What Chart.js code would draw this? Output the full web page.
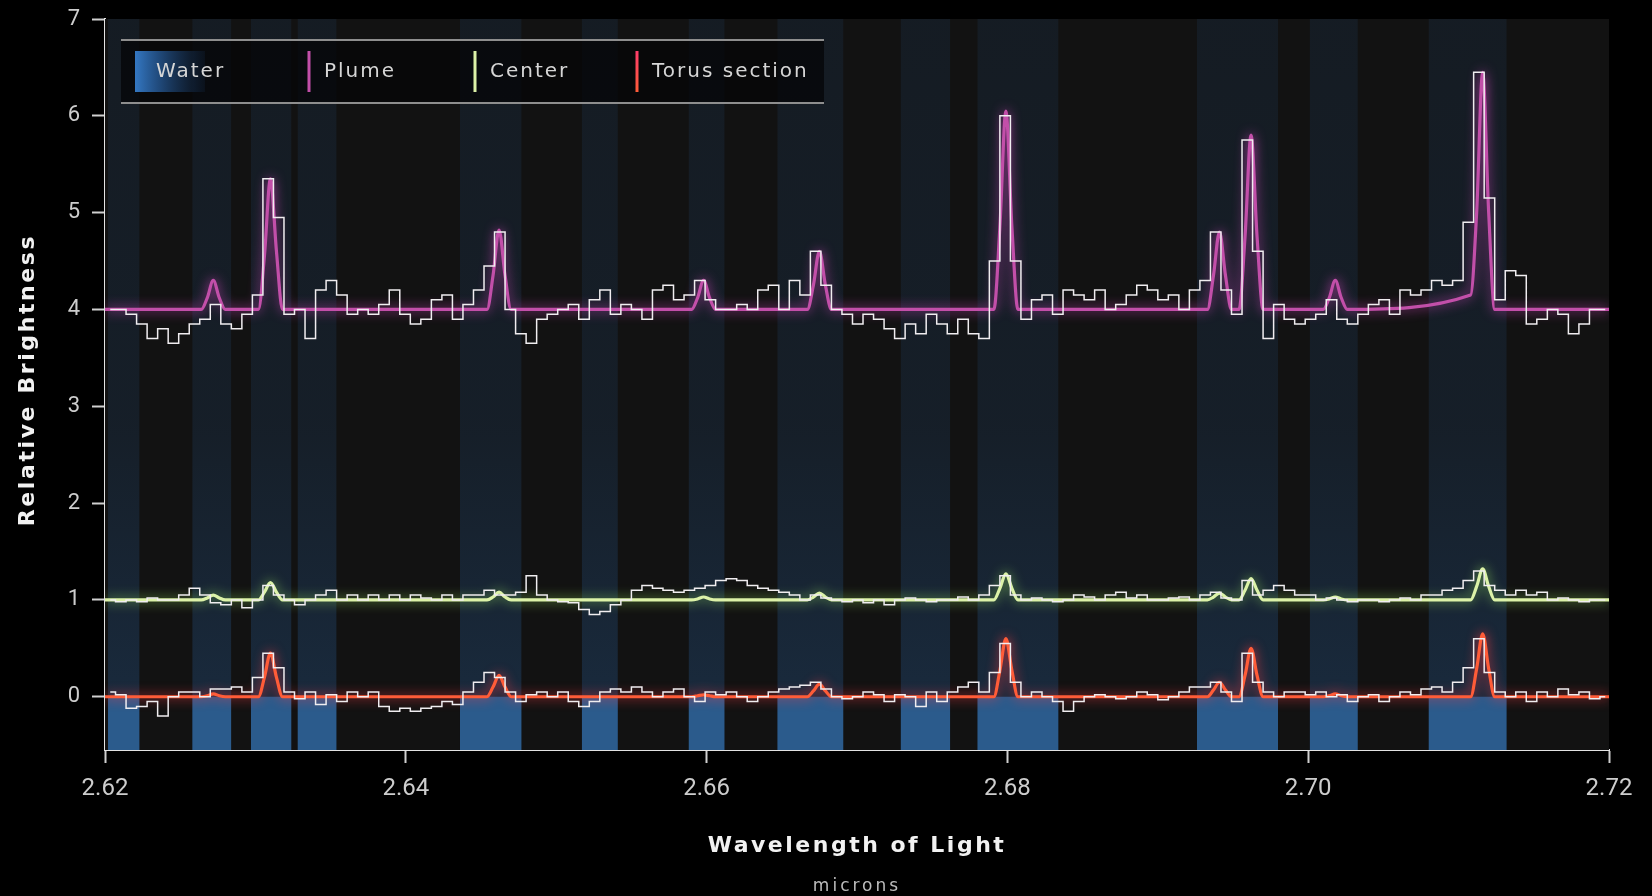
<!DOCTYPE html>
<html>
<head>
<meta charset="utf-8">
<title>Enceladus plume spectrum</title>
<script src="https://cdn.jsdelivr.net/npm/chart.js@4.4.1/dist/chart.umd.min.js"></script>
<style>
  html, body { margin: 0; padding: 0; background: #000; }
  canvas { display: block; }
</style>
</head>
<body>
<canvas id="spectrum" width="1652" height="896"></canvas>
<script>
// Spectral bins: first bin starts at 2.620 µm, each bin is 0.0007 µm wide
const binStart = 2.62;
const binWidth = 0.0007;

// Observed relative brightness per bin (plume offset by +4, center by +1)
const plumeData = [
  4.0, 4.0, 3.95, 3.85, 3.7, 3.8, 3.65, 3.75, 3.85, 3.9,
  4.05, 3.85, 3.8, 3.95, 4.15, 5.35, 4.95, 3.95, 4.0, 3.7,
  4.2, 4.3, 4.15, 3.95, 4.0, 3.95, 4.05, 4.2, 3.95, 3.85,
  3.9, 4.1, 4.15, 3.9, 4.05, 4.2, 4.45, 4.8, 4.0, 3.75,
  3.65, 3.9, 3.95, 4.0, 4.05, 3.9, 4.1, 4.2, 3.95, 4.05,
  4.0, 3.9, 4.2, 4.25, 4.1, 4.15, 4.3, 4.1, 4.0, 4.0,
  4.05, 4.0, 4.2, 4.25, 4.0, 4.3, 4.15, 4.6, 4.25, 4.0,
  3.95, 3.85, 3.95, 3.9, 3.8, 3.7, 3.85, 3.75, 3.95, 3.85,
  3.75, 3.9, 3.75, 3.7, 4.5, 6.0, 4.5, 3.9, 4.1, 4.15,
  3.95, 4.2, 4.15, 4.1, 4.2, 4.0, 4.05, 4.15, 4.25, 4.2,
  4.1, 4.15, 4.0, 4.2, 4.3, 4.8, 4.2, 3.95, 5.75, 4.6,
  3.7, 4.05, 3.9, 3.85, 3.9, 3.95, 4.1, 3.9, 3.85, 3.95,
  4.05, 4.1, 3.95, 4.2, 4.15, 4.2, 4.3, 4.25, 4.3, 4.9,
  6.45, 5.15, 4.1, 4.4, 4.35, 3.85, 3.9, 4.0, 3.95, 3.75,
  3.85, 4.0, 4.0
];

const centerData = [
  1.0, 0.98, 1.0, 0.98, 1.02, 1.0, 1.0, 1.05, 1.12, 1.05,
  0.97, 0.95, 1.0, 0.92, 1.0, 1.15, 1.05, 1.0, 0.95, 1.0,
  1.05, 1.1, 1.0, 1.05, 1.0, 1.05, 1.0, 1.05, 1.0, 1.05,
  1.02, 1.0, 1.05, 1.0, 1.05, 1.05, 1.1, 1.05, 1.05, 1.08,
  1.25, 1.05, 1.0, 0.98, 0.97, 0.9, 0.85, 0.88, 0.95, 1.0,
  1.1, 1.15, 1.12, 1.1, 1.08, 1.1, 1.12, 1.15, 1.2, 1.22,
  1.2, 1.15, 1.12, 1.1, 1.08, 1.05, 1.0, 1.05, 1.02, 1.0,
  0.98, 1.0, 0.97, 1.0, 0.95, 1.0, 1.02, 1.0, 0.98, 1.0,
  1.0, 1.03, 1.0, 1.05, 1.15, 1.25, 1.05, 1.0, 1.02, 1.0,
  0.98, 1.0, 1.05, 1.03, 1.0, 1.05, 1.08, 1.02, 1.05, 1.0,
  1.0, 1.02, 1.03, 1.0, 1.05, 1.08, 1.02, 1.0, 1.2, 1.05,
  1.1, 1.15, 1.1, 1.05, 1.05, 1.0, 1.02, 1.0, 0.98, 1.0,
  1.0, 0.98, 1.0, 1.02, 1.0, 1.05, 1.05, 1.1, 1.12, 1.2,
  1.3, 1.15, 1.1, 1.05, 1.1, 1.05, 1.08, 1.0, 1.02, 1.0,
  0.98, 1.0, 1.0
];

const torusData = [
  0.05, 0.02, -0.12, -0.1, -0.05, -0.2, 0.0, 0.05, 0.05, 0.0,
  0.08, 0.08, 0.1, 0.05, 0.2, 0.45, 0.3, 0.05, -0.02, 0.05,
  -0.08, 0.02, -0.05, 0.05, 0.0, 0.05, -0.1, -0.15, -0.12, -0.15,
  -0.12, -0.1, -0.05, -0.08, 0.05, 0.15, 0.25, 0.2, 0.05, -0.05,
  0.02, 0.05, 0.0, 0.05, -0.05, -0.1, -0.05, 0.05, 0.08, 0.05,
  0.1, 0.05, 0.0, 0.05, 0.08, 0.0, -0.05, 0.05, 0.02, 0.05,
  0.0, -0.05, 0.0, 0.05, 0.08, 0.1, 0.12, 0.15, 0.08, 0.0,
  -0.02, 0.0, 0.05, 0.02, -0.05, 0.02, 0.0, -0.1, 0.05, -0.05,
  0.05, 0.1, 0.15, 0.05, 0.25, 0.55, 0.15, 0.0, 0.05, 0.0,
  -0.05, -0.15, -0.05, 0.0, 0.02, 0.0, -0.02, 0.0, 0.05, 0.02,
  -0.03, 0.0, 0.05, 0.1, 0.1, 0.15, 0.05, -0.05, 0.45, 0.15,
  0.05, 0.0, 0.05, 0.05, 0.02, 0.05, 0.0, 0.02, -0.05, 0.0,
  0.02, -0.05, 0.0, 0.05, 0.02, 0.08, 0.1, 0.05, 0.15, 0.3,
  0.6, 0.25, 0.05, 0.0, 0.05, -0.05, 0.05, 0.0, 0.08, 0.02,
  0.05, -0.02, 0.0
];

// Water model curves, sampled around each emission line
const modelWavelengths = [
  2.6200,
  2.6264, 2.6268, 2.6272, 2.6276, 2.6280,
  2.6302, 2.6306, 2.6310, 2.6314, 2.6318,
  2.6454, 2.6458, 2.6462, 2.6466, 2.6470,
  2.6590, 2.6594, 2.6598, 2.6602, 2.6606,
  2.6667, 2.6671, 2.6675, 2.6679, 2.6683,
  2.6791, 2.6795, 2.6799, 2.6803, 2.6807,
  2.6933, 2.6937, 2.6941, 2.6945, 2.6949,
  2.6954, 2.6958, 2.6962, 2.6966, 2.6970,
  2.7010, 2.7014, 2.7018, 2.7022, 2.7026,
  2.7108, 2.7112, 2.7116, 2.7120, 2.7124,
  2.7200
];
const plumeModel = [
  4.0,
  4.0, 4.12, 4.3, 4.12, 4.0,
  4.0, 4.55, 5.35, 4.6, 4.0,
  4.0, 4.35, 4.82, 4.35, 4.0,
  4.0, 4.12, 4.3, 4.12, 4.0,
  4.0, 4.25, 4.6, 4.25, 4.0,
  4.0, 4.85, 6.05, 4.85, 4.0,
  4.0, 4.35, 4.8, 4.35, 4.0,
  4.0, 4.75, 5.8, 4.75, 4.0,
  4.0, 4.12, 4.3, 4.12, 4.0,
  4.15, 5.0, 6.45, 5.0, 4.0,
  4.0
];
const centerModel = [
  1.0,
  1.0, 1.02, 1.05, 1.02, 1.0,
  1.0, 1.08, 1.18, 1.08, 1.0,
  1.0, 1.03, 1.08, 1.03, 1.0,
  1.0, 1.01, 1.03, 1.01, 1.0,
  1.0, 1.03, 1.07, 1.03, 1.0,
  1.0, 1.12, 1.27, 1.12, 1.0,
  1.0, 1.03, 1.07, 1.03, 1.0,
  1.0, 1.1, 1.22, 1.1, 1.0,
  1.0, 1.01, 1.03, 1.01, 1.0,
  1.0, 1.14, 1.32, 1.14, 1.0,
  1.0
];
const torusModel = [
  0.0,
  0.0, 0.01, 0.03, 0.01, 0.0,
  0.0, 0.2, 0.45, 0.2, 0.0,
  0.0, 0.1, 0.22, 0.1, 0.0,
  0.0, 0.01, 0.02, 0.01, 0.0,
  0.0, 0.06, 0.13, 0.06, 0.0,
  0.0, 0.27, 0.6, 0.27, 0.0,
  0.0, 0.07, 0.15, 0.07, 0.0,
  0.0, 0.22, 0.5, 0.22, 0.0,
  0.0, 0.01, 0.03, 0.01, 0.0,
  0.0, 0.29, 0.65, 0.29, 0.0,
  0.0
];

// Wavelength ranges of water lines (µm)
const waterBands = [
  [2.6202, 2.6223], [2.6258, 2.6284], [2.6297, 2.6324], [2.6328, 2.6354],
  [2.6436, 2.6477], [2.6517, 2.6541], [2.6588, 2.6612], [2.6647, 2.6691],
  [2.6729, 2.6762], [2.6780, 2.6834], [2.6926, 2.6980], [2.7001, 2.7033],
  [2.7080, 2.7132]
];

const xTickValues = [2.62, 2.64, 2.66, 2.68, 2.70, 2.72];
const yTickValues = [0, 1, 2, 3, 4, 5, 6, 7];
const yMin = -0.55, yMax = 7;

// ---------- helpers ----------
const binCenters = plumeData.map((_, i) => binStart + binWidth * (i + 0.5));
const toPoints = (xs, ys) => ys.map((y, i) => ({ x: xs[i], y }));
function bandPoints(level) {
  const pts = [];
  waterBands.forEach(([a, b]) => {
    pts.push({ x: a, y: level }, { x: b, y: level }, { x: b, y: null });
  });
  return pts;
}

const FONT = '"DejaVu Sans", "Open Sans", sans-serif';

const dataLine = (label, values) => ({
  label, data: toPoints(binCenters, values),
  borderColor: '#f0edf0', borderWidth: 1.5, stepped: 'middle',
  pointRadius: 0, fill: false, order: 1
});
const modelLine = (label, values, color, glow) => ({
  label, data: toPoints(modelWavelengths, values),
  borderColor: color, borderWidth: 3.2, cubicInterpolationMode: 'monotone',
  pointRadius: 0, fill: false, order: 3,
  glowColor: glow, glowBlur: 12, legendSwatch: 'line'
});

// Plot background
const backdrop = {
  id: 'backdrop',
  beforeDatasetsDraw(chart) {
    const { ctx, chartArea: a } = chart;
    ctx.save();
    ctx.fillStyle = '#121212';
    ctx.fillRect(a.left, a.top, a.right - a.left, a.bottom - a.top);
    ctx.restore();
  }
};

// Soft glow behind the model curves
const glow = {
  id: 'glow',
  beforeDatasetDraw(chart, args) {
    const ds = chart.data.datasets[args.index];
    if (ds.glowColor) {
      chart.ctx.save();
      chart.ctx.shadowColor = ds.glowColor;
      chart.ctx.shadowBlur = ds.glowBlur;
    }
  },
  afterDatasetDraw(chart, args) {
    const ds = chart.data.datasets[args.index];
    if (ds.glowColor) chart.ctx.restore();
  }
};

// Legend strip across the top of the plot
const legendStrip = {
  id: 'legendStrip',
  afterDatasetsDraw(chart) {
    const { ctx } = chart;
    const box = { left: 121, right: 824, top: 40, bottom: 103 };
    const slots = [135, 309, 475, 637];
    const items = chart.data.datasets.filter(d => d.legendSwatch);
    ctx.save();
    ctx.fillStyle = 'rgba(4,4,6,0.72)';
    ctx.fillRect(box.left, box.top, box.right - box.left, box.bottom - box.top);
    ctx.strokeStyle = '#8e8e8e';
    ctx.lineWidth = 2;
    ctx.beginPath();
    ctx.moveTo(box.left, box.top); ctx.lineTo(box.right, box.top);
    ctx.moveTo(box.left, box.bottom); ctx.lineTo(box.right, box.bottom);
    ctx.stroke();

    const sy0 = 51, sy1 = 92, midY = 72;
    ctx.font = '20px ' + FONT;
    ctx.letterSpacing = '2px';
    ctx.textBaseline = 'middle';
    ctx.textAlign = 'left';
    items.forEach((d, i) => {
      const x = slots[i];
      if (d.legendSwatch === 'box') {
        const g = ctx.createLinearGradient(x, 0, x + 70, 0);
        g.addColorStop(0, 'rgba(52,120,195,1)');
        g.addColorStop(0.35, 'rgba(40,95,160,0.75)');
        g.addColorStop(1, 'rgba(25,60,105,0.15)');
        ctx.fillStyle = g;
        ctx.fillRect(x, sy0, 70, sy1 - sy0);
        ctx.fillStyle = '#d6d6d6';
        ctx.fillText(d.label, x + 21, midY);
      } else {
        const g = ctx.createLinearGradient(0, sy0, 0, sy1);
        g.addColorStop(0, d.legendTop || d.borderColor);
        g.addColorStop(1, d.borderColor);
        ctx.strokeStyle = g;
        ctx.lineWidth = 3;
        ctx.beginPath();
        ctx.moveTo(x, sy0); ctx.lineTo(x, sy1);
        ctx.stroke();
        ctx.fillStyle = '#d6d6d6';
        ctx.fillText(d.label, x + 15, midY);
      }
    });
    ctx.restore();
  }
};

// Axis titles
const axisTitles = {
  id: 'axisTitles',
  afterDraw(chart) {
    const { ctx, chartArea: a } = chart;
    const cx = (a.left + a.right) / 2;
    ctx.save();
    ctx.textAlign = 'center';
    ctx.textBaseline = 'middle';
    ctx.fillStyle = '#f2f2f2';
    ctx.font = 'bold 22px ' + FONT;
    ctx.letterSpacing = '2.5px';
    ctx.fillText('Wavelength of Light', cx, 846);
    ctx.font = '17px ' + FONT;
    ctx.letterSpacing = '3px';
    ctx.fillStyle = '#bcbcbc';
    ctx.fillText('microns', cx, 887);
    ctx.translate(28, 380);
    ctx.rotate(-Math.PI / 2);
    ctx.font = 'bold 22px ' + FONT;
    ctx.letterSpacing = '2.6px';
    ctx.fillStyle = '#f2f2f2';
    ctx.fillText('Relative Brightness', 0, 0);
    ctx.restore();
  }
};

const faintBandFill = (context) => {
  const { chart } = context;
  const a = chart.chartArea;
  if (!a) return 'rgba(40,90,145,0.2)';
  const y0 = chart.scales.y.getPixelForValue(0);
  const g = chart.ctx.createLinearGradient(0, a.top, 0, y0);
  g.addColorStop(0, 'rgba(40,92,150,0.13)');
  g.addColorStop(0.6, 'rgba(40,92,150,0.17)');
  g.addColorStop(1, 'rgba(40,92,150,0.32)');
  return g;
};

new Chart(document.getElementById('spectrum'), {
  type: 'line',
  data: {
    datasets: [
      {
        label: 'Water', data: bandPoints(yMax), borderWidth: 0, pointRadius: 0,
        fill: 'start', backgroundColor: faintBandFill, order: 10, legendSwatch: 'box'
      },
      { ...modelLine('Plume', plumeModel, '#c24fa9', 'rgba(205,70,185,0.95)'), legendTop: '#c24fa9' },
      { ...modelLine('Center', centerModel, '#dcf2a8', 'rgba(150,225,90,0.85)') },
      { ...modelLine('Torus section', torusModel, '#ff5c38', 'rgba(255,60,70,0.95)'), legendTop: '#ff3c6a' },
      dataLine('Plume observed', plumeData),
      dataLine('Center observed', centerData),
      dataLine('Torus section observed', torusData),
      {
        label: 'Water below baseline', data: bandPoints(0), borderWidth: 0, pointRadius: 0,
        fill: 'start', backgroundColor: 'rgba(48,104,160,0.8)', order: 9
      }
    ]
  },
  options: {
    responsive: false,
    animation: false,
    events: [],
    layout: { padding: { left: 0, top: 19, right: 43, bottom: 0 } },
    plugins: { legend: { display: false }, tooltip: { enabled: false } },
    scales: {
      x: {
        type: 'linear', min: 2.62, max: 2.72,
        afterBuildTicks: s => { s.ticks = xTickValues.map(v => ({ value: v })); },
        afterFit: s => { s.height = 146; s.paddingLeft = 0; s.paddingRight = 0; },
        ticks: {
          color: '#cdcdcd', padding: 12, autoSkip: false, maxRotation: 0,
          font: { family: 'Roboto', size: 24 },
          callback: v => Number(v).toFixed(2)
        },
        grid: { drawOnChartArea: false, drawTicks: true, tickLength: 13, tickColor: '#d0d0d0', tickWidth: 2 },
        border: { display: true, color: '#e4e4e4', width: 2 }
      },
      y: {
        type: 'linear', min: yMin, max: yMax,
        afterBuildTicks: s => { s.ticks = yTickValues.map(v => ({ value: v })); },
        afterFit: s => { s.width = 105; s.paddingTop = 0; s.paddingBottom = 0; },
        ticks: {
          color: '#cdcdcd', padding: 12, autoSkip: false,
          font: { family: 'Roboto', size: 22 },
          callback: v => String(v)
        },
        grid: { drawOnChartArea: false, drawTicks: true, tickLength: 13, tickColor: '#d0d0d0', tickWidth: 2 },
        border: { display: true, color: '#e4e4e4', width: 2 }
      }
    }
  },
  plugins: [backdrop, glow, legendStrip, axisTitles]
});
</script>
</body>
</html>
